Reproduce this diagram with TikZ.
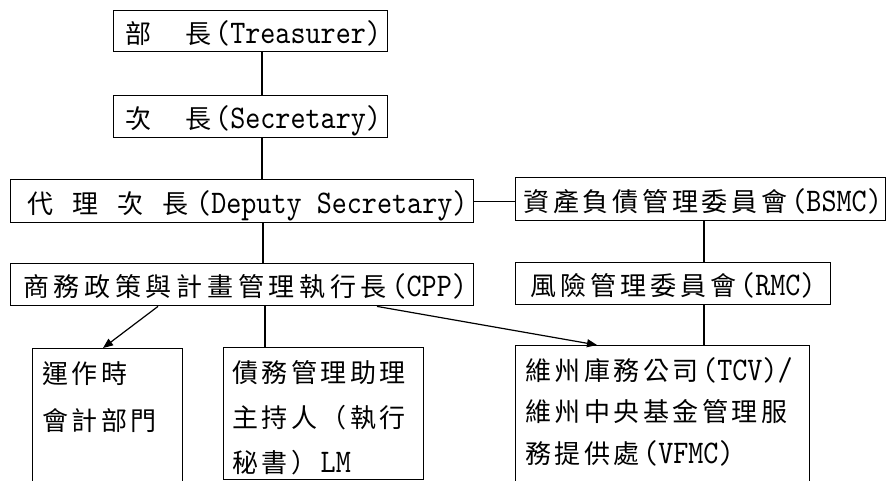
\documentclass[tikz,border=0pt]{standalone}
\usepackage{fontspec}
\newfontfamily\cj{Noto Sans CJK TC}
\newfontfamily\lat[FakeStretch=0.87]{lmmono10-regular.otf}
\usetikzlibrary{arrows.meta,calc}
\newcommand\cjgap{4pt}
\makeatletter
\def\cjsp#1{\cjsp@i#1\relax}
\def\cjsp@i#1{\ifx#1\relax\else#1\kern\cjgap\relax\expandafter\cjsp@i\fi}
\makeatother
\newcommand\Cj[2][4pt]{{\cj\def\cjgap{#1}\cjsp{#2}}}
\newcommand\Lt[1]{{\fontsize{33}{34}\selectfont\lat #1}}
\tikzset{
  box/.style={draw, line width=1.4pt, anchor=north west, inner sep=0pt},
  txt/.style={anchor=base west, inner sep=0pt, font=\fontsize{26}{30}\selectfont},
  mtxt/.style={anchor=north west, inner sep=0pt, align=left},
  conn/.style={line width=1.2pt},
  arr/.style={line width=1.2pt, -{Triangle[length=10pt,width=8pt]}}
}
\begin{document}
\begin{tikzpicture}[x=1pt,y=-1pt]
\useasboundingbox (0,0) rectangle (887,481);
\clip (0,0) rectangle (887,481);
\fill[white] (0,0) rectangle (887,481);

% boxes
\node[box, minimum width=274, minimum height=41] (treas) at (113,10) {};
\node[box, minimum width=274, minimum height=42] (sec) at (113,95) {};
\node[box, minimum width=463, minimum height=43] (dep) at (10,179) {};
\node[box, minimum width=463, minimum height=42] (cpp) at (10,263) {};
\node[box, minimum width=370, minimum height=43] (bsmc) at (515,177) {};
\node[box, minimum width=315, minimum height=42] (rmc) at (515,262) {};
\node[box, minimum width=150, minimum height=145] (ops) at (32,348) {};
\node[box, minimum width=200, minimum height=132] (lm) at (223,347) {};
\node[box, minimum width=294, minimum height=145] (tcv) at (515,345) {};

% texts
\node[txt] (treas-t) at ($(treas.west)+(12,12)$) {\Cj{部　長}\Lt{(Treasurer)}};
\node[txt] (sec-t) at ($(sec.west)+(12,12)$) {\Cj{次　長}\Lt{(Secretary)}};
\node[txt] (dep-t) at ($(dep.west)+(17,12)$) {{\cj 代\kern19pt 理\kern19pt 次\kern19pt 長}\kern8pt\Lt{(Deputy Secretary)}};
\node[txt] (cpp-t) at ($(cpp.west)+(13,12)$) {\Cj[4.7pt]{商務政策與計畫管理執行長}\Lt{(CPP)}};
\node[txt] (bsmc-t) at ($(bsmc.west)+(8,12)$) {\Cj[3.8pt]{資產負債管理委員會}\Lt{(BSMC)}};
\node[txt] (rmc-t) at ($(rmc.west)+(15,12)$) {\Cj{風險管理委員會}\Lt{(RMC)}};

\node[mtxt, font=\fontsize{26}{47}\selectfont] (ops-t) at ($(ops.north west)+(10,11)$)
  {\rule{0pt}{24pt}\Cj[3.5pt]{運作時}\\\Cj[3.5pt]{會計部門}};
\node[mtxt, font=\fontsize{26}{45}\selectfont] (lm-t) at ($(lm.north west)+(9,11)$)
  {\rule{0pt}{24pt}\Cj[3.5pt]{債務管理助理}\\\Cj[3.5pt]{主持人（執行}\\\Cj[3.5pt]{秘書）}\Lt{LM}};
\node[mtxt, font=\fontsize{26}{41.5}\selectfont] (tcv-t) at ($(tcv.north west)+(10,11)$)
  {\rule{0pt}{24pt}\Cj[3.5pt]{維州庫務公司}\Lt{(TCV)/}\\\Cj[3.5pt]{維州中央基金管理服}\\\Cj[3.5pt]{務提供處}\Lt{(VFMC)}};

% connectors
\draw[conn] ([xshift=149pt]treas.south west) -- ([xshift=149pt]sec.north west);
\draw[conn] ([xshift=149pt]sec.south west) -- ([xshift=252pt]dep.north west);
\draw[conn] ([xshift=253pt]dep.south west) -- ([xshift=253pt]cpp.north west);
\draw[conn] (dep.east) -- (dep.east -| bsmc.west);
\draw[conn] ([xshift=189pt]bsmc.south west) -- ([xshift=189pt]rmc.north west);
\draw[conn] ([xshift=189pt]rmc.south west) -- ([xshift=189pt]tcv.north west);
\draw[arr] ([xshift=148pt]cpp.south west) -- ([xshift=71pt]ops.north west);
\draw[conn] ([xshift=255pt]cpp.south west) -- ([xshift=42pt]lm.north west);
\draw[arr] ([xshift=367pt]cpp.south west) -- ([xshift=82pt]tcv.north west);
\end{tikzpicture}
\end{document}
